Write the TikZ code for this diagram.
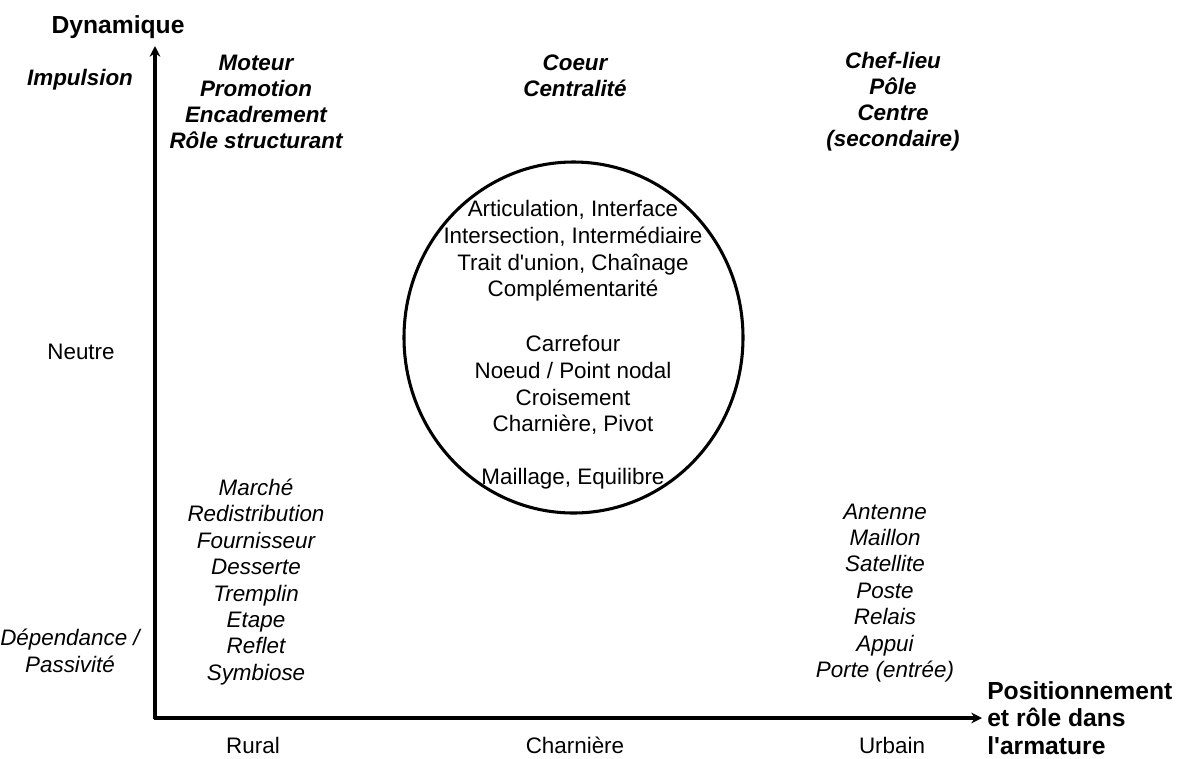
\documentclass[tikz,border=0pt]{standalone}
\usepackage{fontspec}
\setmainfont{Liberation Sans}
\usetikzlibrary{arrows.meta,shapes.geometric}
\begin{document}
\begin{tikzpicture}[x=0.75pt,y=-0.75pt,
  txt/.style={font=\fontsize{16.8}{20}\selectfont, align=center, inner sep=0pt},
  itxt/.style={txt, font=\fontsize{16.8}{19.8}\selectfont\itshape},
  btxt/.style={txt, font=\fontsize{16.8}{19.6}\selectfont\bfseries\itshape},
  axtitle/.style={font=\fontsize{18.5}{20.6}\selectfont\bfseries, inner sep=0pt},
  axis/.style={line width=2.3pt, -{Stealth[length=8pt,width=8pt]}},
  ring/.style={draw, line width=2.3pt, ellipse, inner sep=0pt, minimum width=254.25pt, minimum height=263.25pt}]
\useasboundingbox (0,0) rectangle (1183,758);
% axes
\coordinate (O) at (155,718);
\coordinate (ytop) at (155,46);
\coordinate (xend) at (982,718);
\draw[axis] ([yshift=-1pt]O) -- (ytop);
\draw[axis] ([xshift=-1.1pt]O) -- (xend);
% axis titles
\node[axtitle] (dyn) at (118,27) {Dynamique};
\node[axtitle, align=left, anchor=west] (pos) at (987,718) {Positionnement\\et rôle dans\\l\textquotesingle armature};
% top labels
\node[btxt] (imp) at (80,80) {Impulsion};
\node[btxt] (mot) at (256,102) {Moteur\\Promotion\\Encadrement\\Rôle structurant};
\node[btxt] (coe) at (575,76) {Coeur\\Centralité};
\node[btxt] (chef) at (893,102) {Chef-lieu\\Pôle\\Centre\\(secondaire)};
% middle
\node[txt] (neu) at (81,352) {Neutre};
\node[ring] (circ) at (573.5,337.5) {};
\node[txt] (g1) at (573,251) {Articulation, Interface\\Intersection, Intermédiaire\\Trait d\textquotesingle union, Chaînage\\Complémentarité};
\node[txt] (g2) at (573,385) {Carrefour\\Noeud / Point nodal\\Croisement\\Charnière, Pivot};
\node[txt] (g3) at (573,479) {Maillage, Equilibre};
% bottom lists
\node[itxt] (left) at (256,582) {Marché\\Redistribution\\Fournisseur\\Desserte\\Tremplin\\Etape\\Reflet\\Symbiose};
\node[itxt] (right) at (885,593) {Antenne\\Maillon\\Satellite\\Poste\\Relais\\Appui\\Porte (entrée)};
\node[itxt] (dep) at (70,651) {Dépendance /\\Passivité};
% x labels
\node[txt] (rur) at (253,745) {Rural};
\node[txt] (cha) at (575,745) {Charnière};
\node[txt] (urb) at (892,745) {Urbain};
\end{tikzpicture}
\end{document}
